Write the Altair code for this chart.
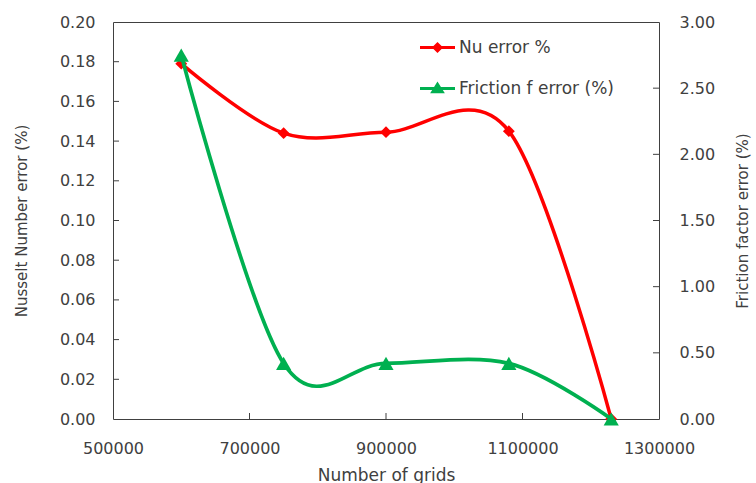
import altair as alt
import pandas as pd

# Grid-independence study: relative error of Nu and friction factor vs. mesh size
grids = [600000, 750000, 900000, 1080000, 1230000]
nu_error = [0.179, 0.144, 0.1445, 0.145, 0.0]
friction_error = [2.75, 0.42, 0.42, 0.42, 0.0]

series_names = ["Nu error %", "Friction f error (%)"]
series_colors = ["#FF0000", "#00B050"]

x_ticks = [500000, 700000, 900000, 1100000, 1300000]
nu_ticks = [0.00, 0.02, 0.04, 0.06, 0.08, 0.10, 0.12, 0.14, 0.16, 0.18, 0.20]
f_ticks = [0.00, 0.50, 1.00, 1.50, 2.00, 2.50, 3.00]

W, H = 546, 397
FONT = "DejaVu Sans"
INK = "#404040"
TICK_LEN = 6

# legend glyphs: a line segment with the series marker on it
LEGEND_GLYPHS = [
    "M-1,-0.09H1V0.09H-1Z M0,-0.32L0.32,0L0,0.32L-0.32,0Z",
    "M-1,-0.09H1V0.09H-1Z M0,-0.4L0.42,0.27L-0.42,0.27Z",
]

df = pd.DataFrame({
    "grids": grids + grids,
    "series": [series_names[0]] * len(grids) + [series_names[1]] * len(grids),
    "value": nu_error + friction_error,
})
x_tick_df = pd.DataFrame({"grids": x_ticks[1:-1]})
nu_tick_df = pd.DataFrame({"value": nu_ticks[1:-1]})
f_tick_df = pd.DataFrame({"value": f_ticks[1:-1]})

common_axis = dict(
    ticks=False, tickSize=0, domain=False, grid=False,
    labelFont=FONT, labelFontSize=16, labelColor=INK,
    titleFont=FONT, titleFontWeight="normal", titleColor=INK,
    labelFlush=False, labelOverlap=False,
)

x_axis = alt.Axis(values=x_ticks, format="d", title="Number of grids",
                  labelPadding=21, titlePadding=11, titleFontSize=17, **common_axis)
left_axis = alt.Axis(values=nu_ticks, format=".2f", orient="left",
                     title="Nusselt Number error (%)", labelPadding=18,
                     titlePadding=30, titleFontSize=15, **common_axis)
right_axis = alt.Axis(values=f_ticks, format=".2f", orient="right",
                      title="Friction factor error (%)", labelPadding=20,
                      titlePadding=36, titleFontSize=15, titleAngle=270,
                      **common_axis)

x_enc = alt.X("grids:Q", scale=alt.Scale(domain=[500000, 1300000], nice=False, zero=False),
              axis=x_axis)
y_left = alt.Y("value:Q", scale=alt.Scale(domain=[0, 0.2], nice=False, zero=False),
               axis=left_axis)
y_right = alt.Y("value:Q", scale=alt.Scale(domain=[0, 3], nice=False, zero=False),
                axis=right_axis)

legend = alt.Legend(
    title=None, orient="none", legendX=307, legendY=8, padding=0,
    symbolSize=1225, symbolStrokeWidth=0, symbolOpacity=1,
    labelOffset=4, rowPadding=15,
    labelFont=FONT, labelFontSize=17, labelColor=INK,
)
color_scale = alt.Scale(domain=series_names, range=series_colors)
color_plain = alt.Color("series:N", scale=color_scale, legend=None)
color_leg = alt.Color("series:N", scale=color_scale, legend=legend)
shape_leg = alt.Shape("series:N", scale=alt.Scale(domain=series_names, range=LEGEND_GLYPHS),
                      legend=legend)

base = alt.Chart(df)
nu_data = base.transform_filter(alt.datum.series == series_names[0])
f_data = base.transform_filter(alt.datum.series == series_names[1])

# invisible marks that carry the series legend (line + marker glyphs)
legend_layer = base.mark_point(filled=True, opacity=0).encode(
    x=x_enc, color=color_leg, shape=shape_leg
)

nu_layer = alt.layer(
    nu_data.mark_line(interpolate="cardinal", tension=0, strokeWidth=3.5)
    .encode(x=x_enc, y=y_left, color=color_plain),
    nu_data.mark_point(shape="diamond", filled=True, size=140, opacity=1)
    .encode(x=x_enc, y=y_left, color=color_plain),
    alt.Chart(x_tick_df).mark_rule(color=INK, strokeWidth=1)
    .encode(x=x_enc, y=alt.value(H - TICK_LEN), y2=alt.value(H)),
    alt.Chart(nu_tick_df).mark_rule(color=INK, strokeWidth=1)
    .encode(x=alt.value(0), x2=alt.value(TICK_LEN), y=y_left),
)

f_layer = alt.layer(
    f_data.mark_line(interpolate="cardinal", tension=0, strokeWidth=3.7)
    .encode(x=x_enc, y=y_right, color=color_plain),
    f_data.mark_point(shape="triangle-up", filled=True, size=230, opacity=1)
    .encode(x=x_enc, y=y_right, color=color_plain),
    alt.Chart(f_tick_df).mark_rule(color=INK, strokeWidth=1)
    .encode(x=alt.value(W - TICK_LEN), x2=alt.value(W), y=y_right),
)

chart = (
    alt.layer(legend_layer, nu_layer, f_layer)
    .resolve_scale(y="independent")
    .properties(
        width=W, height=H, autosize="none",
        padding={"left": 113, "top": 22, "right": 97, "bottom": 64},
        background="white",
    )
    .configure_view(stroke=INK, strokeWidth=1)
)

chart.save("out.html", embed_options={"renderer": "svg", "actions": False})
